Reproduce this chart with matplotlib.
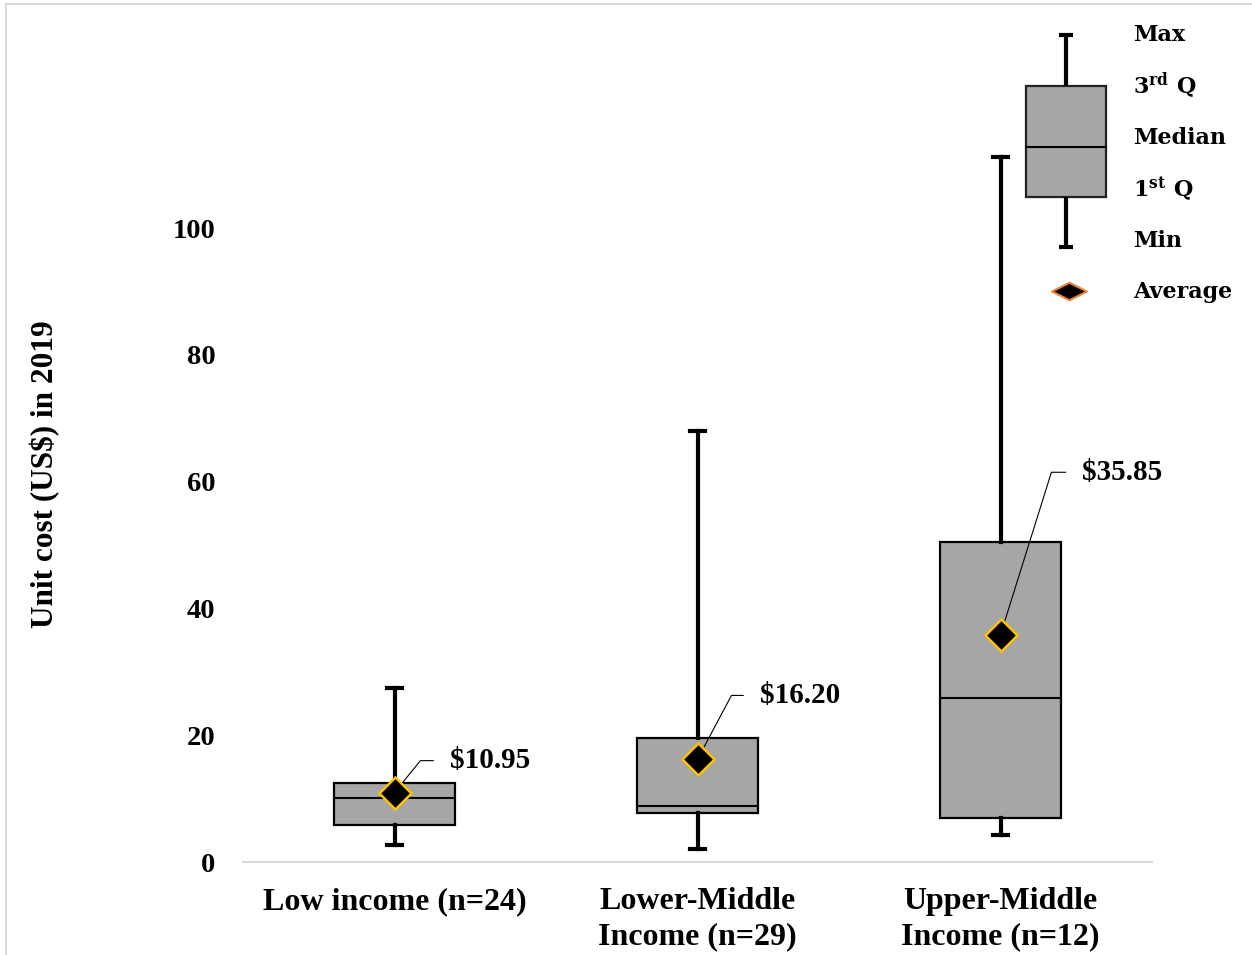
import matplotlib
matplotlib.use("Agg")
import matplotlib.pyplot as plt
from matplotlib.path import Path
from matplotlib.patches import Rectangle

# ---- data -------------------------------------------------------------
categories = ["Low income (n=24)", "Lower-Middle\nIncome (n=29)", "Upper-Middle\nIncome (n=12)"]
mins = [2.7, 2.0, 4.2]
q1s = [5.9, 7.8, 7.0]
medians = [10.1, 8.9, 25.8]
q3s = [12.5, 19.5, 50.5]
maxs = [27.4, 68.0, 111.2]
means = [10.95, 16.20, 35.85]
yticks = [0, 20, 40, 60, 80, 100]

# ---- styling ----------------------------------------------------------
SERIF = "Liberation Serif"
LEG_FONT = "DejaVu Serif"
BOX_GRAY = "#A6A6A6"
plt.rcParams["mathtext.fontset"] = "custom"
plt.rcParams["mathtext.bf"] = "DejaVu Serif:bold"
plt.rcParams["mathtext.rm"] = "DejaVu Serif:bold"

W, H = 1252, 955
fig = plt.figure(figsize=(W / 100, H / 100), dpi=100)
fig.patch.set_facecolor("white")

# light frame around the chart area
fig.patches.append(Rectangle((6 / W, -0.1), 1.2, 1.1 - 4 / H, transform=fig.transFigure,
                             fill=False, edgecolor="#D9D9D9", lw=1.5))

ax = fig.add_axes([243 / W, 1 - 862 / H, (1152 - 243) / W, (862 - 38) / H])

stats = []
for lab, lo, a, m, b, hi, mu in zip(categories, mins, q1s, medians, q3s, maxs, means):
    stats.append(dict(label=lab, whislo=lo, q1=a, med=m, q3=b, whishi=hi, mean=mu, fliers=[]))

positions = list(range(len(categories)))
ax.bxp(stats, positions=positions, widths=0.4, patch_artist=True, showmeans=True,
       showfliers=False, capwidths=0.05,
       boxprops=dict(facecolor=BOX_GRAY, edgecolor="black", linewidth=1.6),
       whiskerprops=dict(color="black", linewidth=3),
       capprops=dict(color="black", linewidth=3),
       medianprops=dict(color="black", linewidth=1.5),
       meanprops=dict(marker="D", markerfacecolor="black", markeredgecolor="#FFC000",
                      markersize=16.5, markeredgewidth=1.8, zorder=5))

# value call-outs for the averages
label_offsets = [(40, 23), (45, 46), (59, 117)]
leader_angles = [51, 62, 72.6]
for x, mu, off, ang in zip(positions, means, label_offsets, leader_angles):
    ax.annotate(f"${mu:.2f}", xy=(x, mu), xytext=off, textcoords="offset points",
                ha="left", va="center", fontsize=21, fontweight="bold", family=SERIF,
                arrowprops=dict(arrowstyle="-", color="black", lw=0.8,
                                connectionstyle=f"angle,angleA=0,angleB={ang},rad=0",
                                patchA=None, shrinkA=12, shrinkB=0, relpos=(0, 0.5)),
                zorder=4)

ax.set_xlim(-0.5, 2.5)
ax.set_ylim(0, 130)
ax.set_yticks(yticks)
ax.set_yticklabels([str(t) for t in yticks])
ax.set_xticks(positions)
ax.set_xticklabels(categories, linespacing=1.28)
for lbl in ax.get_xticklabels():
    lbl.set_fontsize(23)
    lbl.set_fontweight("bold")
    lbl.set_family(SERIF)
for lbl in ax.get_yticklabels():
    lbl.set_fontsize(20.5)
    lbl.set_fontweight("bold")
    lbl.set_family(SERIF)
ax.tick_params(axis="y", length=0, pad=20)
ax.tick_params(axis="x", length=0, pad=18)
for side in ("top", "right", "left"):
    ax.spines[side].set_visible(False)
ax.spines["bottom"].set_color("#D9D9D9")
ax.spines["bottom"].set_linewidth(1.5)

ax.set_ylabel("Unit cost (US$) in 2019", fontsize=22.5, fontweight="bold", family=SERIF,
              va="center")
ax.yaxis.set_label_coords(-0.218, 0.471)

# ---- key explaining the box elements ---------------------------------
key = fig.add_axes([0, 0, 1, 1], zorder=3)
key.set_xlim(0, W)
key.set_ylim(H, 0)
key.axis("off")
key.patch.set_alpha(0)

kx = 1066
key.plot([kx, kx], [35, 86], color="black", lw=3, solid_capstyle="butt")
key.plot([kx - 7, kx + 7], [35, 35], color="black", lw=3, solid_capstyle="butt")
key.plot([kx, kx], [197, 247], color="black", lw=3, solid_capstyle="butt")
key.plot([kx - 7, kx + 7], [247, 247], color="black", lw=3, solid_capstyle="butt")
key.add_patch(Rectangle((1026, 86), 80, 111, facecolor=BOX_GRAY, edgecolor="#222222", lw=1.6))
key.plot([1026, 1106], [147, 147], color="black", lw=1.5)
flat_diamond = Path([(-1, 0), (0, 0.5), (1, 0), (0, -0.5), (-1, 0)],
                    [Path.MOVETO, Path.LINETO, Path.LINETO, Path.LINETO, Path.CLOSEPOLY])
key.plot([1069], [291], marker=flat_diamond, markersize=25, markerfacecolor="black",
         markeredgecolor="#ED7D31", markeredgewidth=1.5, linestyle="none")

key_labels = ["Max", r"3$^{\mathbf{rd}}$ Q", "Median", r"1$^{\mathbf{st}}$ Q", "Min", "Average"]
key_rows = [35, 86, 138, 189, 241, 292]
for txt, yy in zip(key_labels, key_rows):
    key.text(1133, yy, txt, ha="left", va="center", fontsize=16, fontweight="bold",
             family=LEG_FONT)

fig.savefig("out.png", dpi=100)
